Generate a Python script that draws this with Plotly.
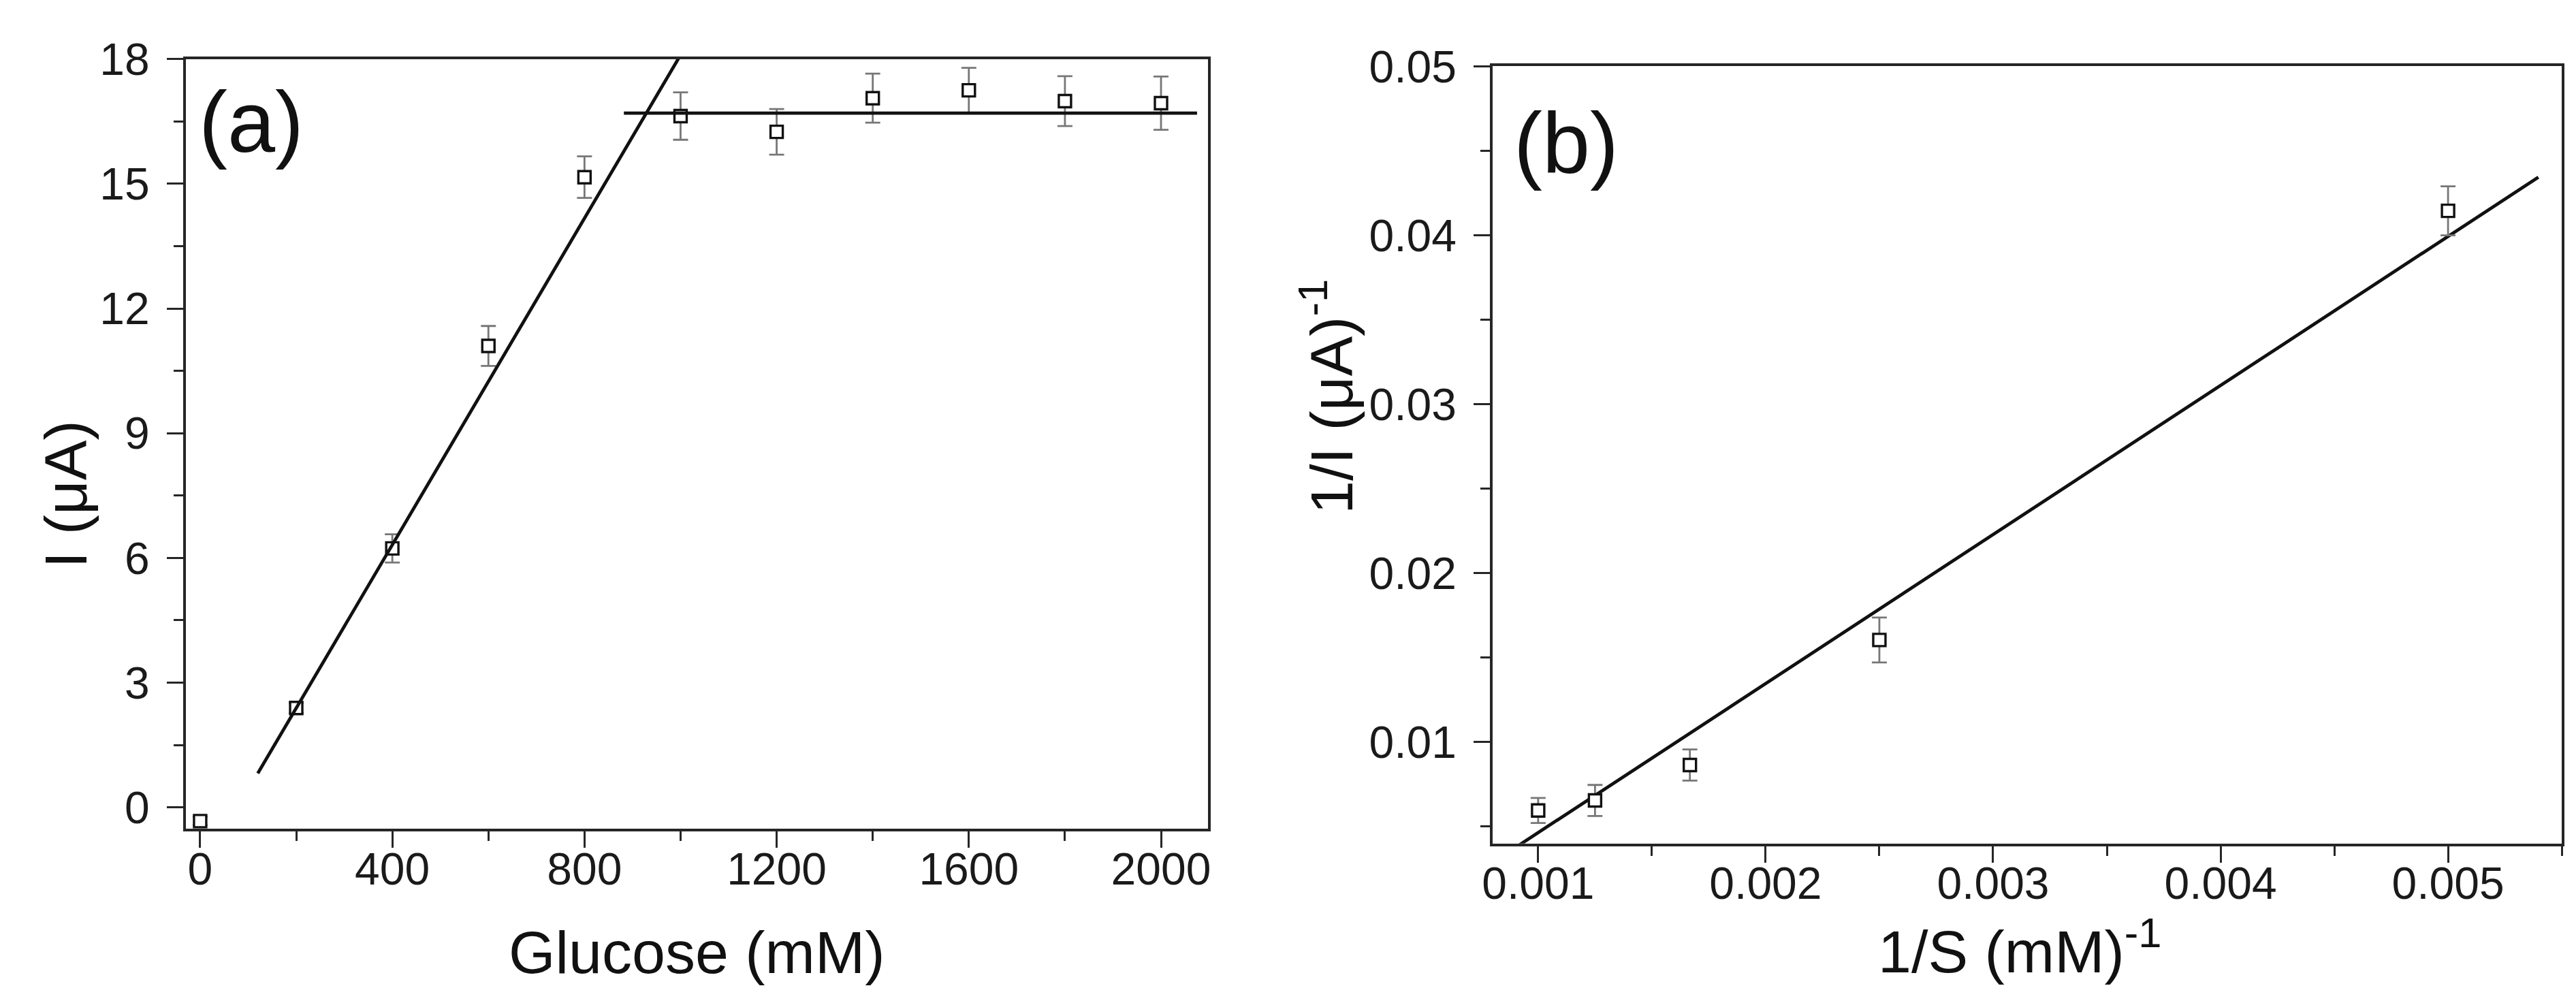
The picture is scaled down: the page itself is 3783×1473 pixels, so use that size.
import plotly.graph_objects as go

W, H = 3783, 1473

# ---------------- data: panel (a) ----------------
glucose = [0, 200, 400, 600, 800, 1000, 1200, 1400, 1600, 1800, 2000]
current = [-0.33, 2.39, 6.23, 11.10, 15.16, 16.63, 16.25, 17.06, 17.25, 16.99, 16.94]
current_err = [0.10, 0.12, 0.34, 0.48, 0.50, 0.57, 0.55, 0.59, 0.54, 0.60, 0.64]

# linear fit (rising part) and plateau
fit1_slope, fit1_icpt = 0.01964, -1.54
fit1_x = [120, 1000]
plateau_level = 16.70
plateau_x = [882, 2075]

a_xticks = [0, 400, 800, 1200, 1600, 2000]
a_yticks = [0, 3, 6, 9, 12, 15, 18]

# ---------------- data: panel (b) ----------------
inv_s = [0.001, 0.00125, 0.001667, 0.0025, 0.005]
inv_i = [0.00595, 0.00654, 0.00864, 0.01604, 0.04145]
inv_i_err = [0.00074, 0.00092, 0.00092, 0.00133, 0.00145]

fitb_slope, fitb_icpt = 8.825, -0.00419
fitb_x = [0.00090, 0.005397]

b_xticks = [0.001, 0.002, 0.003, 0.004, 0.005]
b_xlabels = ["0.001", "0.002", "0.003", "0.004", "0.005"]
b_yticks = [0.01, 0.02, 0.03, 0.04, 0.05]
b_ylabels = ["0.01", "0.02", "0.03", "0.04", "0.05"]

# ---------------- figure ----------------
FONT = "Liberation Sans, Arial, sans-serif"
TICKFONT = dict(family=FONT, size=66, color="#1a1a1a")
AXCOL = "#262626"

fig = go.Figure()

marker = dict(symbol="square", size=18, color="white",
              line=dict(color="#111111", width=3.4))
err_style = dict(type="data", color="#777777", thickness=2.8, width=11)
LINE = dict(color="#111111", width=4.8)

fig.add_trace(go.Scatter(
    x=glucose, y=current, mode="markers", marker=marker,
    error_y=dict(array=current_err, **err_style),
    xaxis="x", yaxis="y", showlegend=False))
fig.add_trace(go.Scatter(
    x=fit1_x, y=[fit1_slope * v + fit1_icpt for v in fit1_x], mode="lines",
    line=LINE, xaxis="x", yaxis="y", showlegend=False))
fig.add_trace(go.Scatter(
    x=plateau_x, y=[plateau_level] * len(plateau_x), mode="lines",
    line=LINE, xaxis="x", yaxis="y", showlegend=False))

fig.add_trace(go.Scatter(
    x=fitb_x, y=[fitb_slope * v + fitb_icpt for v in fitb_x], mode="lines",
    line=LINE, xaxis="x2", yaxis="y2", showlegend=False))
fig.add_trace(go.Scatter(
    x=inv_s, y=inv_i, mode="markers", marker=marker,
    error_y=dict(array=inv_i_err, **err_style),
    xaxis="x2", yaxis="y2", showlegend=False))

def px_x(v):
    return v / W

def px_y(v):
    return 1 - v / H

common = dict(showline=True, linecolor=AXCOL, linewidth=3.8, mirror=True,
              ticks="outside", ticklen=24, tickwidth=3.2, tickcolor=AXCOL,
              showgrid=False, zeroline=False, tickfont=TICKFONT)
xcommon = dict(common, ticklabelstandoff=-26)
ycommon = dict(common, ticklabelstandoff=12)

def minor(dt):
    return dict(dtick=dt, tick0=0, ticklen=14, tickwidth=3.2,
                tickcolor=AXCOL, ticks="outside", showgrid=False)

fig.update_layout(
    width=W, height=H,
    margin=dict(l=0, r=0, t=0, b=0),
    paper_bgcolor="white", plot_bgcolor="white",
    xaxis=dict(domain=[px_x(251), px_x(1760)], range=[-30, 2098],
               tickvals=a_xticks, anchor="y", minor=minor(200), **xcommon),
    yaxis=dict(domain=[px_y(1206), px_y(43)], range=[-0.52, 18],
               tickvals=a_yticks, anchor="x", minor=minor(1.5), **ycommon),
    xaxis2=dict(domain=[px_x(2180), px_x(3758)], range=[0.0008, 0.0055],
                tickvals=b_xticks, ticktext=b_xlabels, anchor="y2",
                minor=minor(0.0005), **xcommon),
    yaxis2=dict(domain=[px_y(1228), px_y(54)], range=[0.00399, 0.05],
                tickvals=b_yticks, ticktext=b_ylabels, anchor="x2",
                minor=minor(0.005), **ycommon),
)

TITLEFONT = dict(family=FONT, size=88, color="#111111")
LABELFONT = dict(family=FONT, size=126, color="#111111")

annots = [
    dict(text="Glucose (mM)", x=px_x(1006), y=px_y(1392), font=TITLEFONT),
    dict(text="I (\u03bcA)", x=px_x(74), y=px_y(700), font=TITLEFONT, textangle=-90),
    dict(text="1/S (mM)<sup>-1</sup>", x=px_x(2958), y=px_y(1385), font=TITLEFONT),
    dict(text="1/I (\u03bcA)<sup>-1</sup>", x=px_x(1935), y=px_y(553), font=TITLEFONT,
         textangle=-90),
    dict(text="(a)", x=px_x(348), y=px_y(138), font=LABELFONT),
    dict(text="(b)", x=px_x(2288), y=px_y(170), font=LABELFONT),
]
for a in annots:
    fig.add_annotation(xref="paper", yref="paper", showarrow=False,
                       xanchor="center", yanchor="middle", **a)

fig.write_html("out.html")
